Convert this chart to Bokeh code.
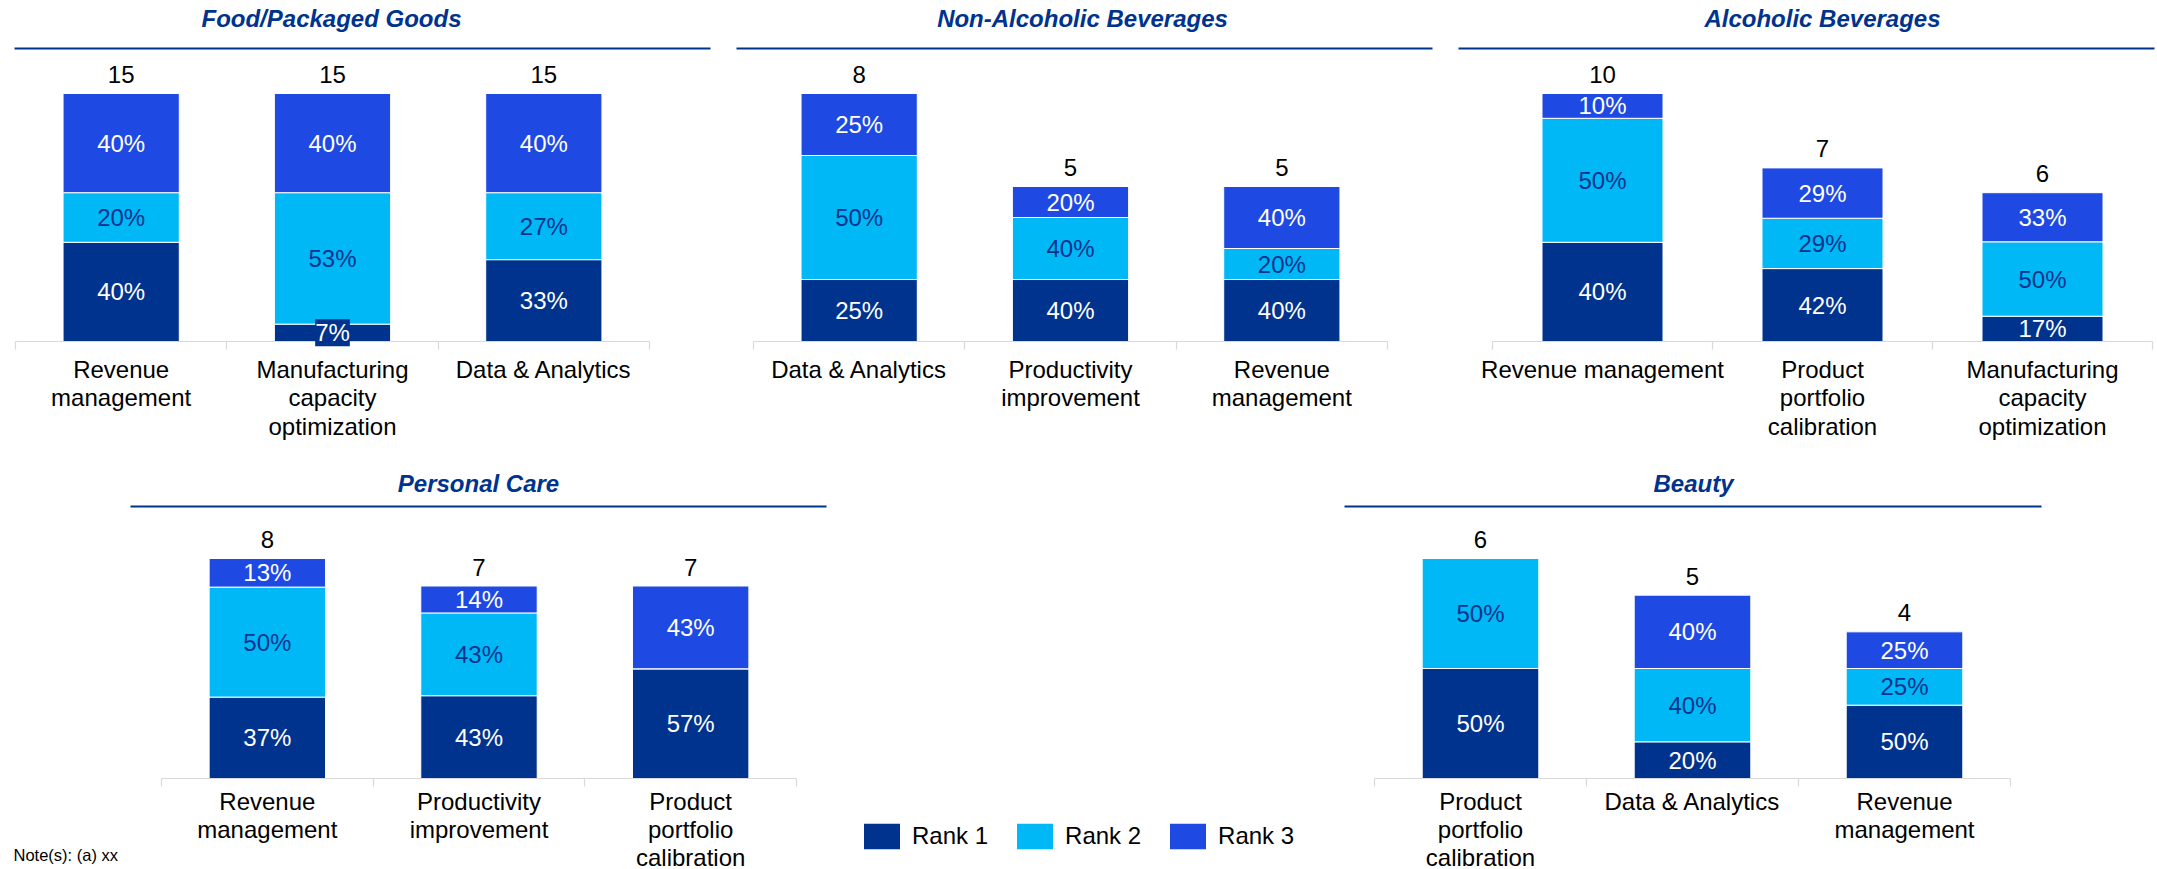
from bokeh.plotting import figure
from bokeh.models import (ColumnDataSource, LabelSet, LinearAxis, FixedTicker, Range1d,
                          Legend, LegendItem, Spacer)
from bokeh.layouts import row, column
from bokeh.core.properties import value
from bokeh.embed import file_html
from bokeh.resources import INLINE

# ---------------- data ----------------
RANKS = ["Rank 1", "Rank 2", "Rank 3"]

food_title = "Food/Packaged Goods"
food_cats = ["Revenue\nmanagement", "Manufacturing\ncapacity\noptimization", "Data & Analytics"]
food_totals = [15, 15, 15]
food_rank1 = [40, 7, 33]
food_rank2 = [20, 53, 27]
food_rank3 = [40, 40, 40]

nonalc_title = "Non-Alcoholic Beverages"
nonalc_cats = ["Data & Analytics", "Productivity\nimprovement", "Revenue\nmanagement"]
nonalc_totals = [8, 5, 5]
nonalc_rank1 = [25, 40, 40]
nonalc_rank2 = [50, 40, 20]
nonalc_rank3 = [25, 20, 40]

alc_title = "Alcoholic Beverages"
alc_cats = ["Revenue management", "Product\nportfolio\ncalibration", "Manufacturing\ncapacity\noptimization"]
alc_totals = [10, 7, 6]
alc_rank1 = [40, 42, 17]
alc_rank2 = [50, 29, 50]
alc_rank3 = [10, 29, 33]

pc_title = "Personal Care"
pc_cats = ["Revenue\nmanagement", "Productivity\nimprovement", "Product\nportfolio\ncalibration"]
pc_totals = [8, 7, 7]
pc_rank1 = [37, 43, 57]
pc_rank2 = [50, 43, 0]
pc_rank3 = [13, 14, 43]

beauty_title = "Beauty"
beauty_cats = ["Product\nportfolio\ncalibration", "Data & Analytics", "Revenue\nmanagement"]
beauty_totals = [6, 5, 4]
beauty_rank1 = [50, 20, 50]
beauty_rank2 = [50, 40, 25]
beauty_rank3 = [0, 40, 25]

footnotes = ["Note(s): (a) xx",
             "Source(s): KPMG CPG State of the Industry Survey fielded April 2023"]

# ---------------- styles / layout (pixels) ----------------
FONT = "Liberation Sans"
COLORS = ["#00338D", "#00B8F5", "#1E49E2"]
TEXT_COLORS = ["white", "#00338D", "white"]
TITLE_COLOR = "#00338D"
AXIS_GRAY = "#D9D9D9"
LINE_STEP = 28.3

TOP = dict(fig_t=0, fig_b=455, title_y=18, line_y=48, axis_y=341, bar_px=248, cat_dy=28)
BOT = dict(fig_t=455, fig_b=869, title_y=483, line_y=506, axis_y=778, bar_px=220, cat_dy=22.5)

L_FOOD = dict(TOP, fig_l=0, fig_r=723, line_l=14, line_r=710, axis_l=15, axis_r=649, title_cx=331)
L_NONALC = dict(TOP, fig_l=723, fig_r=1445, line_l=736, line_r=1432, axis_l=753, axis_r=1387, title_cx=1082)
L_ALC = dict(TOP, fig_l=1445, fig_r=2157, line_l=1458, line_r=2154, axis_l=1492, axis_r=2152, title_cx=1822)
L_PC = dict(BOT, fig_l=0, fig_r=840, line_l=130, line_r=826, axis_l=161, axis_r=796, title_cx=478,
            note_x=13, note_y=854, note_step=20)
L_BEAUTY = dict(BOT, fig_l=1330, fig_r=2157, line_l=1344, line_r=2041, axis_l=1374, axis_r=2010, title_cx=1693)


def labelset(p, xs, ys, texts, colors, y_offset=0, baseline="middle", bg=None, style="normal",
             align="center", size="24px"):
    src = ColumnDataSource(dict(x=xs, y=ys, text=texts, tcolor=colors))
    ls = LabelSet(x="x", y="y", text="text", source=src, text_color="tcolor",
                  text_align=align, text_baseline=baseline, y_offset=y_offset,
                  text_font=value(FONT), text_font_size=size, text_font_style=style)
    if bg is not None:
        ls.background_fill_color = bg
    p.add_layout(ls)
    return ls


def make_panel(title, cats, totals, r1, r2, r3, L, notes=None):
    n = len(cats)
    cat_w = (L["axis_r"] - L["axis_l"]) / n
    vmax = max(totals)
    ppu = L["bar_px"] / vmax  # pixels per unit

    def dx(px):
        return (px - L["axis_l"]) / cat_w

    def dy(py):
        return (L["axis_y"] - py) / ppu

    p = figure(width=L["fig_r"] - L["fig_l"], height=L["fig_b"] - L["fig_t"],
               x_range=Range1d(dx(L["fig_l"]), dx(L["fig_r"])),
               y_range=Range1d(dy(L["fig_b"]), dy(L["fig_t"])),
               x_axis_location=None, y_axis_location=None,
               toolbar_location=None, output_backend="svg", min_border=0)
    p.outline_line_color = None
    p.grid.visible = False
    p.title.visible = False

    # title + rule
    labelset(p, [dx(L["title_cx"])], [dy(L["title_y"])], [title], [TITLE_COLOR], style="bold italic")
    p.segment(x0=[dx(L["line_l"])], x1=[dx(L["line_r"])], y0=[dy(L["line_y"])], y1=[dy(L["line_y"])],
              line_color=TITLE_COLOR, line_width=2)

    # category axis: baseline with boundary ticks
    bot_axis = LinearAxis(ticker=FixedTicker(ticks=[], minor_ticks=list(range(n + 1))),
                          fixed_location=0, bounds=(0, n),
                          axis_line_color=AXIS_GRAY, axis_line_width=1.2,
                          major_tick_out=0, major_tick_in=0, minor_tick_out=8, minor_tick_in=0,
                          minor_tick_line_color=AXIS_GRAY, minor_tick_line_width=1.2)
    p.add_layout(bot_axis, "below")

    xs = [i + 0.5 for i in range(n)]
    bottoms = [0.0] * n
    lab_x, lab_y, lab_t, lab_c = [], [], [], []
    sm_x, sm_y, sm_t, sm_c = [], [], [], []
    for k, pcts in enumerate([r1, r2, r3]):
        heights = [t * pc / 100 for t, pc in zip(totals, pcts)]
        tops = [b + h for b, h in zip(bottoms, heights)]
        p.vbar(x=xs, bottom=bottoms, top=tops, width=0.55, fill_color=COLORS[k],
               line_color="white", line_width=1)
        for i in range(n):
            if pcts[i] <= 0:
                continue
            mid = (bottoms[i] + tops[i]) / 2
            if heights[i] * ppu < 20:
                sm_x.append(xs[i]); sm_y.append(mid); sm_t.append(f"{pcts[i]}%"); sm_c.append(TEXT_COLORS[k])
            else:
                lab_x.append(xs[i]); lab_y.append(mid); lab_t.append(f"{pcts[i]}%"); lab_c.append(TEXT_COLORS[k])
        bottoms = tops

    labelset(p, lab_x, lab_y, lab_t, lab_c)
    if sm_x:
        labelset(p, sm_x, sm_y, sm_t, sm_c, bg=COLORS[0])
    labelset(p, xs, totals, [str(t) for t in totals], ["black"] * n, y_offset=19)

    # category names, one centred line at a time
    split = [c.split("\n") for c in cats]
    for j in range(max(len(s) for s in split)):
        idx = [i for i in range(n) if len(split[i]) > j]
        labelset(p, [xs[i] for i in idx], [0] * len(idx), [split[i][j] for i in idx],
                 ["black"] * len(idx), y_offset=-(L["cat_dy"] + j * LINE_STEP))

    if notes:
        labelset(p, [dx(L["note_x"])] * len(notes),
                 [dy(L["note_y"] + j * L["note_step"]) for j in range(len(notes))],
                 notes, ["black"] * len(notes), align="left", size="16.5px")
    return p


p_food = make_panel(food_title, food_cats, food_totals, food_rank1, food_rank2, food_rank3, L_FOOD)
p_nonalc = make_panel(nonalc_title, nonalc_cats, nonalc_totals, nonalc_rank1, nonalc_rank2, nonalc_rank3, L_NONALC)
p_alc = make_panel(alc_title, alc_cats, alc_totals, alc_rank1, alc_rank2, alc_rank3, L_ALC)
p_pc = make_panel(pc_title, pc_cats, pc_totals, pc_rank1, pc_rank2, pc_rank3, L_PC, notes=footnotes)
p_beauty = make_panel(beauty_title, beauty_cats, beauty_totals, beauty_rank1, beauty_rank2, beauty_rank3, L_BEAUTY)

# legend figure
lfig = figure(width=471, height=36, x_range=Range1d(0, 1), y_range=Range1d(0, 1),
              x_axis_location=None, y_axis_location=None, toolbar_location=None,
              output_backend="svg", min_border=0)
lfig.outline_line_color = None
lfig.grid.visible = False
lfig.title.visible = False
rends = [lfig.vbar(x=[0.0], bottom=[0.0], top=[0.0], width=0.001, fill_color=c, line_color=None)
         for c in COLORS]
legend = Legend(items=[LegendItem(label=r, renderers=[rr]) for r, rr in zip(RANKS, rends)],
                orientation="horizontal", location="top_left", glyph_width=45, glyph_height=32,
                label_standoff=8, spacing=24, padding=0, margin=0,
                border_line_color=None, background_fill_alpha=0,
                label_text_font=FONT, label_text_font_size="24px", label_text_color="black")
lfig.add_layout(legend)
mid_col = column(Spacer(width=490, height=365), row(Spacer(width=19, height=36), lfig),
                 Spacer(width=490, height=13))

layout = column(row(p_food, p_nonalc, p_alc), row(p_pc, mid_col, p_beauty))

open("out.html", "w").write(file_html(layout, INLINE))
